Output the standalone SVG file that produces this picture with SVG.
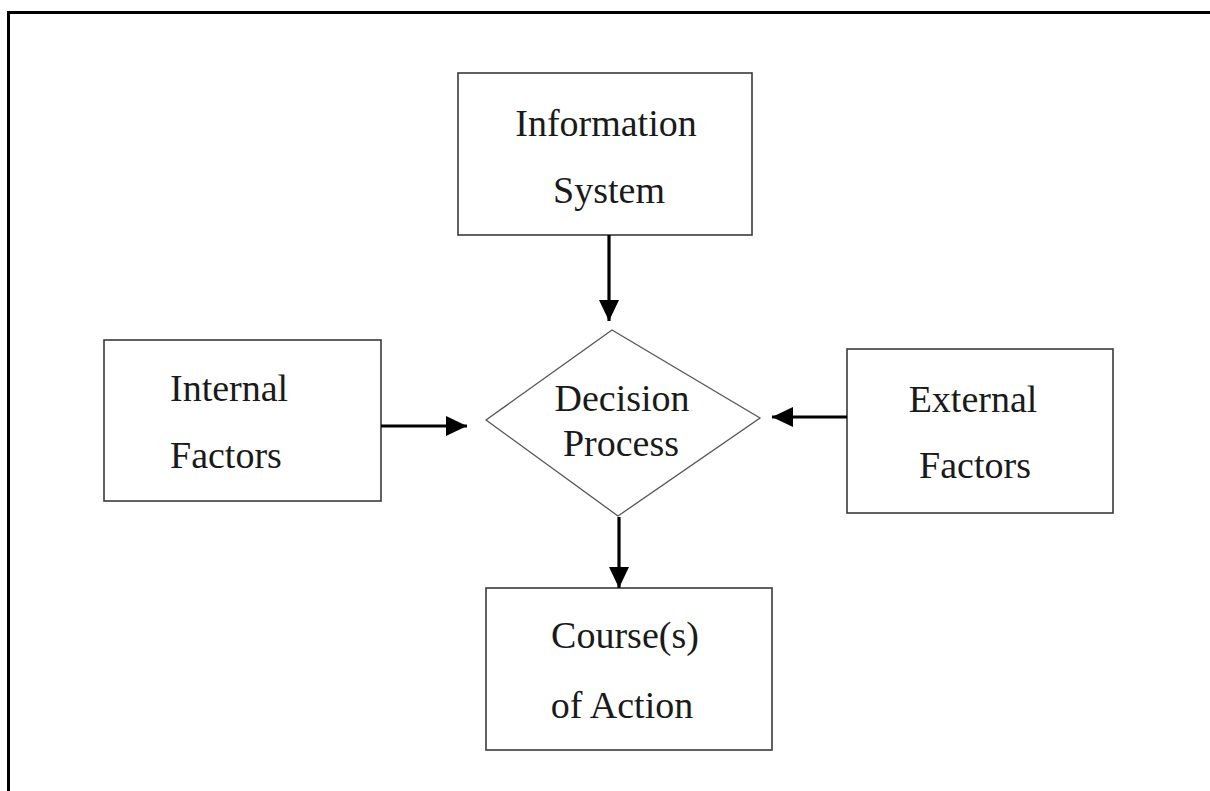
<svg xmlns="http://www.w3.org/2000/svg" width="1210" height="791" viewBox="0 0 1210 791">
  <style>
    .box { fill: #ffffff; stroke: #3a3a3a; stroke-width: 1.6; }
    .dia { fill: #ffffff; stroke: #555555; stroke-width: 1.3; }
    .lbl { font-family: "Liberation Serif", "Times New Roman", serif; font-size: 38px; fill: #1a1a1a; }
    .mid { text-anchor: middle; }
    .wire { stroke: #000000; stroke-width: 3.2; fill: none; marker-end: url(#head); }
    .frame { stroke: #000000; stroke-width: 3; fill: none; }
  </style>
  <defs>
    <marker id="head" markerUnits="userSpaceOnUse" markerWidth="22" markerHeight="20" refX="21" refY="10" orient="auto">
      <path d="M0,0 L21,10 L0,20 Z" fill="#000000"/>
    </marker>
  </defs>

  <rect width="1210" height="791" fill="#ffffff"/>

  <!-- outer frame, open at right and bottom -->
  <path class="frame" d="M8.5,791 L8.5,12.5 L1210,12.5"/>

  <g id="information-system">
    <rect class="box" x="458" y="73" width="294" height="162"/>
    <text class="lbl mid" x="606" y="136">Information</text>
    <text class="lbl mid" x="609" y="203">System</text>
  </g>

  <g id="decision-process">
    <polygon class="dia" points="612,330 760,418 618,516 486,420"/>
    <text class="lbl mid" x="622" y="411">Decision</text>
    <text class="lbl mid" x="621" y="456">Process</text>
  </g>

  <g id="internal-factors">
    <rect class="box" x="104" y="340" width="277" height="161"/>
    <text class="lbl" x="170" y="401">Internal</text>
    <text class="lbl" x="170" y="468">Factors</text>
  </g>

  <g id="external-factors">
    <rect class="box" x="847" y="349" width="266" height="164"/>
    <text class="lbl mid" x="973" y="412">External</text>
    <text class="lbl mid" x="975" y="478">Factors</text>
  </g>

  <g id="courses-of-action">
    <rect class="box" x="486" y="588" width="286" height="162"/>
    <text class="lbl mid" x="625" y="648">Course(s)</text>
    <text class="lbl mid" x="622" y="718">of Action</text>
  </g>

  <g id="connectors">
    <line class="wire" x1="609" y1="235" x2="609" y2="321"/>
    <line class="wire" x1="381" y1="426" x2="467" y2="426"/>
    <line class="wire" x1="847" y1="417" x2="772" y2="417"/>
    <line class="wire" x1="619" y1="517" x2="619" y2="588"/>
  </g>
</svg>
